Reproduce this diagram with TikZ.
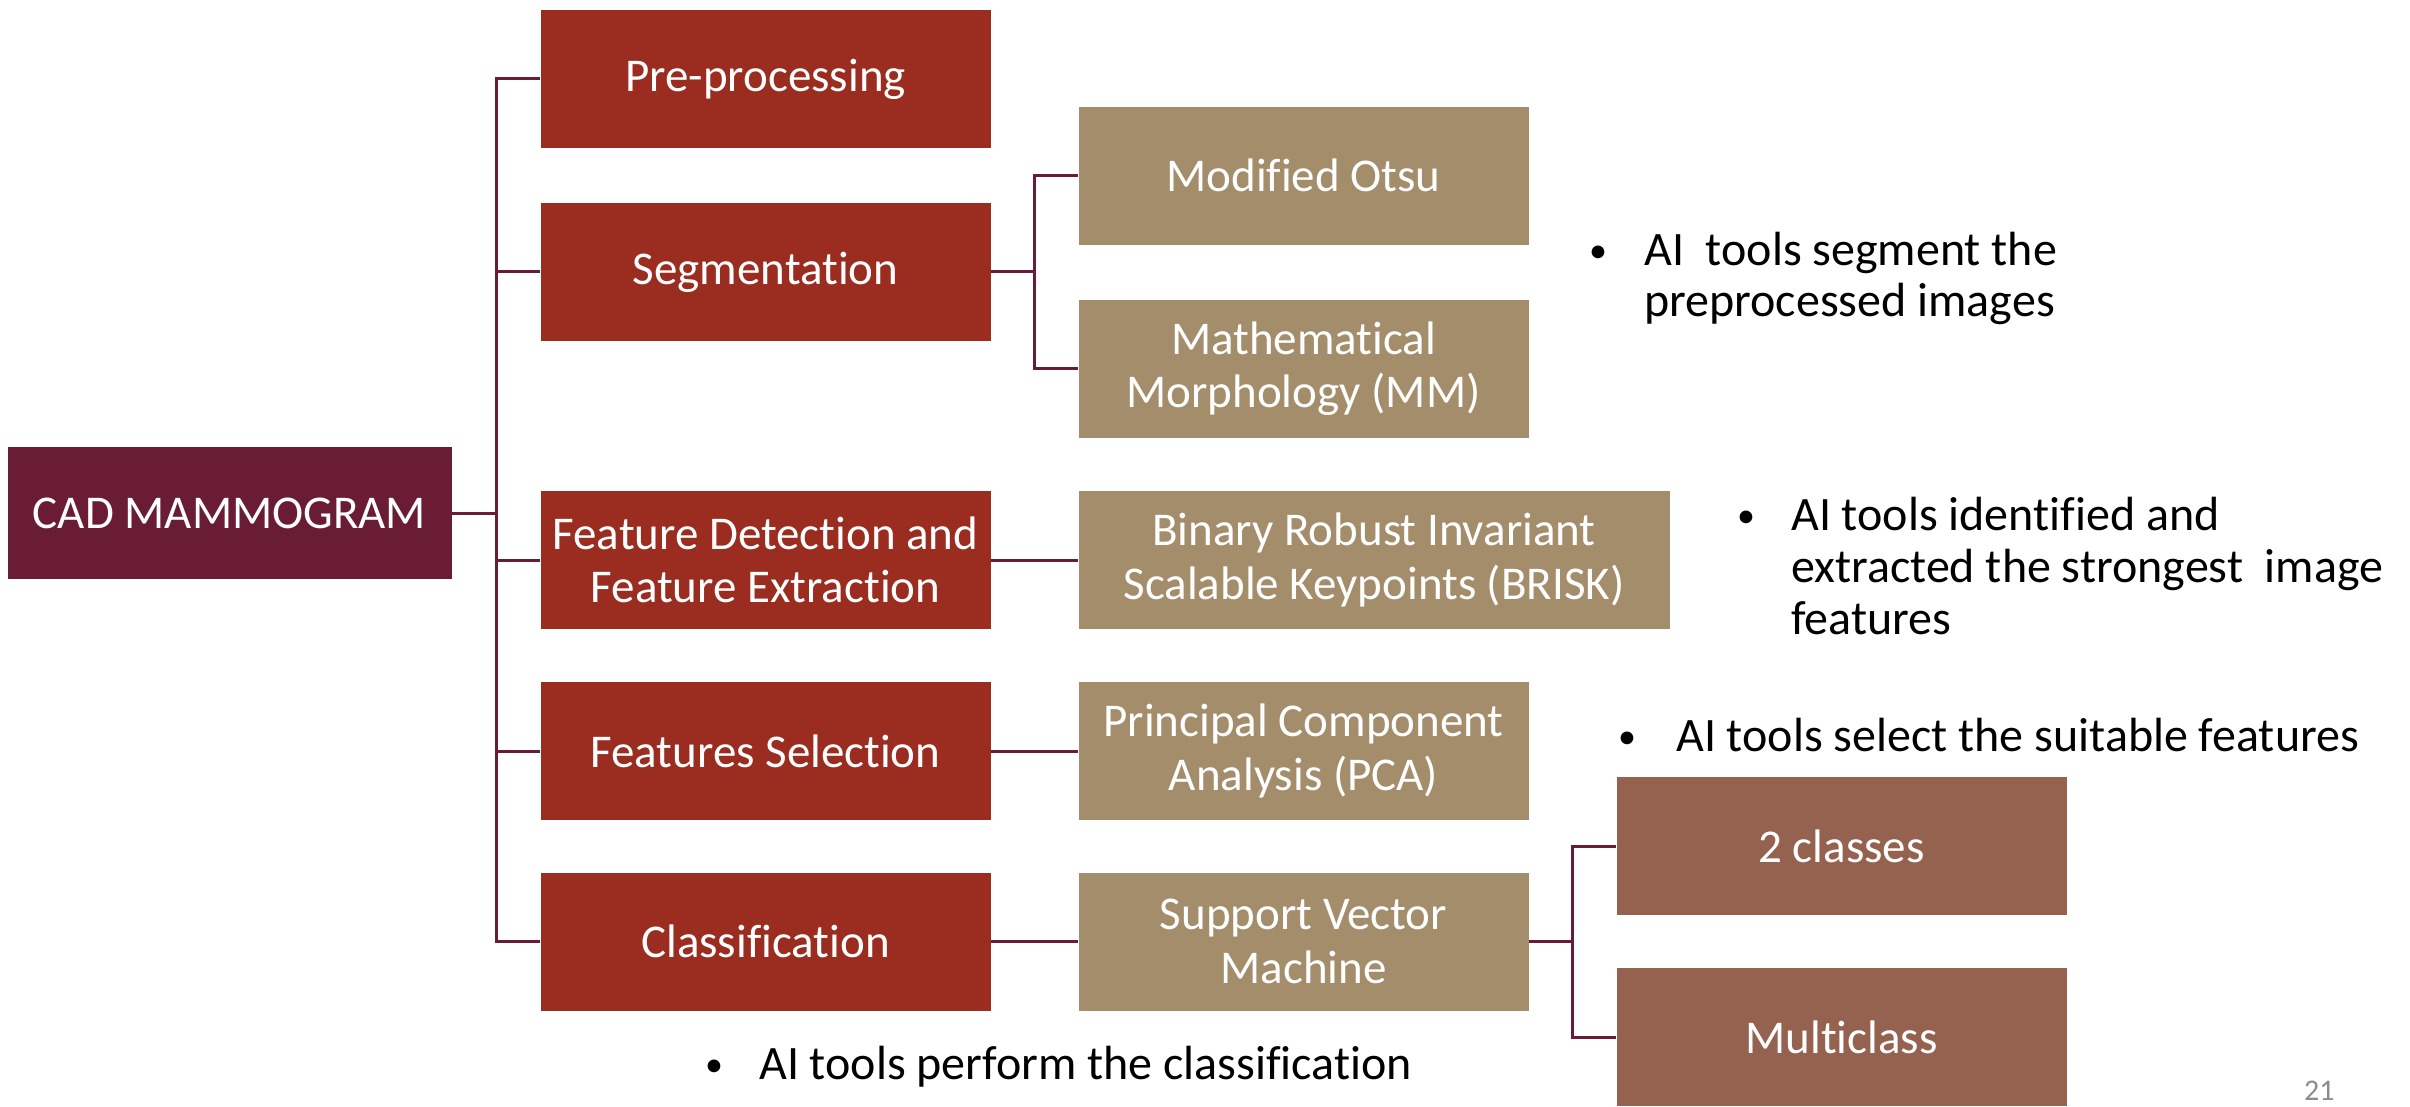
\documentclass[tikz,border=0pt]{standalone}
\usepackage{fontspec}
\setmainfont{Carlito}[RawFeature={-liga}]
\definecolor{cRed}{RGB}{154,44,32}
\definecolor{cTan}{RGB}{163,141,107}
\definecolor{cRoot}{RGB}{107,28,53}
\definecolor{cBrown}{RGB}{149,98,80}
\definecolor{cLink}{RGB}{107,28,53}
\definecolor{cPage}{RGB}{140,140,140}
\tikzset{
  box/.style={draw=white, line width=0.8pt, minimum width=451pt, minimum height=139pt,
    inner sep=0pt, text=white, align=center, font=\fontsize{47}{53.5}\selectfont},
  rootbox/.style={box, fill=cRoot, minimum width=445pt, minimum height=133pt},
  redbox/.style={box, fill=cRed},
  tanbox/.style={box, fill=cTan},
  brownbox/.style={box, fill=cBrown},
  link/.style={draw=cLink, line width=3pt, line join=miter},
  bul/.style={anchor=base west, inner sep=0pt, font=\fontsize{48}{52}\selectfont},
  dot/.style={anchor=base west, inner sep=0pt, font=\fontsize{36}{36}\selectfont},
}
\newcommand{\bdot}{\raisebox{3pt}{•}}
\begin{document}
\begin{tikzpicture}[x=1pt,y=-1pt]
\useasboundingbox[fill=white] (0,0) rectangle (2410,1107);

% root and first level
\node[rootbox] (cad) at (229.5,513) {CAD MAMMOGRAM};
\node[redbox] (pre) at (765.5,79) {Pre-processing};
\node[redbox] (seg) at (765.5,272) {Segmentation};
\node[redbox] (fd) at (765.5,560) {Feature Detection and\\Feature Extraction};
\node[redbox] (fs) at (765.5,751) {Features Selection};
\node[redbox] (cls) at (765.5,941.5) {Classification};

% methods
\node[tanbox] (otsu) at (1303.5,175.5) {Modified Otsu};
\node[tanbox] (mm) at (1303.5,368.5) {Mathematical\\Morphology (MM)};
\node[tanbox, minimum width=592pt] (brisk) at (1374,560) {Binary Robust Invariant\\Scalable Keypoints (BRISK)};
\node[tanbox] (pca) at (1303.5,751) {Principal Component\\Analysis (PCA)};
\node[tanbox] (svm) at (1303.5,941.5) {Support Vector\\Machine};

% classifier variants
\node[brownbox] (two) at (1841.5,846) {2 classes};
\node[brownbox] (multi) at (1841.5,1037) {Multiclass};

% connectors
\coordinate (tj) at (496,513);
\draw[link] (cad.east) -- (tj);
\draw[link] (pre.west) -| (tj) |- (cls.west);
\foreach \n in {seg,fd,fs} \draw[link] (\n.west) -- (\n.west -| tj);

\coordinate (sj) at (1034,272);
\draw[link] (seg.east) -- (sj);
\draw[link] (otsu.west) -| (sj) |- (mm.west);

\draw[link] (fd.east) -- (brisk.west);
\draw[link] (fs.east) -- (pca.west);
\draw[link] (cls.east) -- (svm.west);

\coordinate (vj) at (1572,941.5);
\draw[link] (svm.east) -- (vj);
\draw[link] (two.west) -| (vj) |- (multi.west);

% notes
\node[dot] (d1) at (1589,266) {\bdot};
\node[bul] (s1a) at (1644,266) {AI\ \ tools segment the};
\node[bul] (s1b) at (1644,317) {preprocessed images};
\node[dot] (d2) at (1737,530) {\bdot};
\node[bul] (s2a) at (1791,530) {AI tools identified and};
\node[bul] (s2b) at (1791,582) {extracted the strongest\ \ image};
\node[bul] (s2c) at (1791,634) {features};
\node[dot] (d3) at (1618,751) {\bdot};
\node[bul] (s3) at (1676,751) {AI tools select the suitable features};
\node[dot] (d4) at (705,1079) {\bdot};
\node[bul] (s4) at (759,1079) {AI tools perform the classification};

\node[anchor=base west, inner sep=0pt, text=cPage, font=\fontsize{30}{30}\selectfont] (pg) at (2304,1100) {21};
\end{tikzpicture}
\end{document}
